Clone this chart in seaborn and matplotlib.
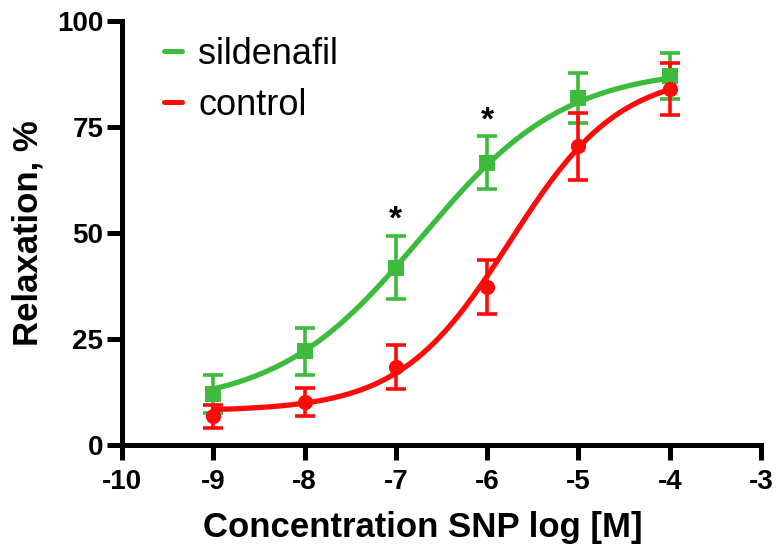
import numpy as np
import pandas as pd
import matplotlib
matplotlib.use("Agg")
import matplotlib.pyplot as plt
import seaborn as sns

# ---- data ----
log_conc = [-9, -8, -7, -6, -5, -4]
sildenafil_mean = [12.1, 22.1, 41.8, 66.6, 81.8, 87.1]
sildenafil_sem = [4.5, 5.5, 7.4, 6.2, 5.9, 5.4]
control_mean = [6.8, 10.2, 18.5, 37.3, 70.5, 84.0]
control_sem = [2.7, 3.3, 5.2, 6.3, 7.9, 6.2]

# fitted sigmoid parameters (bottom, top, logEC50, hill)
sildenafil_fit = [9.0, 89.0, -6.72, 0.55]
control_fit = [8.0, 88.0, -5.75, 0.72]

star_x = [-7, -6]
star_y = [53.0, 76.5]

x_ticks = [-10, -9, -8, -7, -6, -5, -4, -3]
y_ticks = [0, 25, 50, 75, 100]

GREEN = "#3dbb3d"
RED = "#ff0a0a"

sns.set_theme(style="ticks")
plt.rcParams["font.family"] = ["Liberation Sans", "DejaVu Sans"]
plt.rcParams["text.color"] = "black"
plt.rcParams["axes.labelcolor"] = "black"

fig = plt.figure(figsize=(7.82, 5.49), dpi=100)
ax = fig.add_axes([122 / 782, 1 - 445 / 549, (761 - 122) / 782, (445 - 21) / 549])


def four_pl(x, p):
    b, t, ec, h = p
    return b + (t - b) / (1 + 10 ** ((ec - x) * h))


xs = np.linspace(log_conc[0], log_conc[-1], 300)
curves = pd.concat([
    pd.DataFrame({"x": xs, "y": four_pl(xs, sildenafil_fit), "group": "sildenafil"}),
    pd.DataFrame({"x": xs, "y": four_pl(xs, control_fit), "group": "control"}),
])
pts = pd.concat([
    pd.DataFrame({"x": log_conc, "y": sildenafil_mean, "e": sildenafil_sem, "group": "sildenafil"}),
    pd.DataFrame({"x": log_conc, "y": control_mean, "e": control_sem, "group": "control"}),
])
palette = {"sildenafil": GREEN, "control": RED}
markers = {"sildenafil": "s", "control": "o"}

for g in ["sildenafil", "control"]:
    d = pts[pts.group == g]
    ax.errorbar(d.x, d.y, yerr=d.e, fmt="none", ecolor=palette[g],
                elinewidth=2.6, capsize=7.5, capthick=2.6, zorder=3)
    sns.lineplot(data=curves[curves.group == g], x="x", y="y", color=palette[g],
                 linewidth=3.8, ax=ax, label=g, zorder=4)
    sns.scatterplot(data=d, x="x", y="y", color=palette[g], marker=markers[g],
                    s=120, edgecolor=palette[g], linewidth=0, ax=ax, zorder=5,
                    legend=False)

for sx, sy in zip(star_x, star_y):
    ax.text(sx, sy, "*", ha="center", va="center", fontsize=24,
            fontweight="bold", color="black")

ax.set_xlim(-10, -3)
ax.set_ylim(0, 100)
ax.set_xticks(x_ticks)
ax.set_yticks(y_ticks)
ax.set_xticklabels([str(t) for t in x_ticks])
ax.set_yticklabels([str(t) for t in y_ticks])
for s in ["top", "right"]:
    ax.spines[s].set_visible(False)
for s in ["left", "bottom"]:
    ax.spines[s].set_linewidth(3.6)
    ax.spines[s].set_color("black")
    ax.spines[s].set_capstyle("projecting")
ax.tick_params(axis="both", direction="out", length=10.5, width=3.6,
               color="black", labelsize=20, labelcolor="black")
ax.tick_params(axis="x", pad=7)
ax.tick_params(axis="y", pad=3)
for lab in ax.get_xticklabels() + ax.get_yticklabels():
    lab.set_fontweight("bold")

ax.set_xlabel("Concentration SNP log [M]", fontsize=25, fontweight="bold",
              labelpad=11, color="black")
ax.xaxis.label.set_x((423 - 122) / (761 - 122))
ax.set_ylabel("Relaxation, %", fontsize=25, fontweight="bold", labelpad=9,
              color="black")

leg = ax.legend(loc="upper left", bbox_to_anchor=(164 / 782, 1 - 37 / 549),
                bbox_transform=fig.transFigure, frameon=False, fontsize=26,
                handlelength=0.5, handletextpad=0.45, labelspacing=0.43,
                borderpad=0, borderaxespad=0)
for line in leg.get_lines():
    line.set_linewidth(3.6)
for t in leg.get_texts():
    t.set_color("black")

ax.set_facecolor("white")
fig.patch.set_facecolor("white")
fig.savefig("out.png", dpi=100)
